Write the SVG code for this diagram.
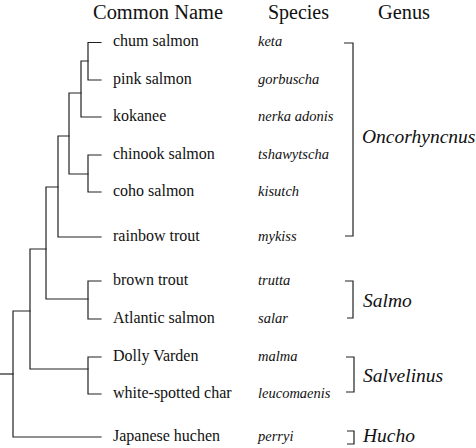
<svg xmlns="http://www.w3.org/2000/svg" width="476" height="448" viewBox="0 0 476 448">
  <style>
    .bg { fill: #ffffff; }
    .edge { fill: none; stroke: #222; stroke-width: 1.2; stroke-linecap: square; }
    .bracket { fill: none; stroke: #222; stroke-width: 1.2; }
    text { fill: #111; }
    .head { font-size: 20px; }
    .common { font-size: 16px; }
    .species { font-style: italic; font-size: 14.5px; }
    .genus { font-style: italic; font-size: 19.5px; }
  </style>
  <rect class="bg" x="0" y="0" width="476" height="448"/>

  <g font-family="'Liberation Serif', 'Times New Roman', Times, 'DejaVu Serif', serif">
  <!-- column headings -->
  <g id="headings">
    <text class="head" x="93" y="19" textLength="130" lengthAdjust="spacingAndGlyphs">Common Name</text>
    <text class="head" x="268" y="19" textLength="61" lengthAdjust="spacingAndGlyphs">Species</text>
    <text class="head" x="378" y="19" textLength="52" lengthAdjust="spacingAndGlyphs">Genus</text>
  </g>

  <!-- tree branches -->
  <g id="connectors">
    <path class="edge" d="M101,42.5 H88 V80 H101"/>
    <path class="edge" d="M88,61 H81 V117 H101"/>
    <path class="edge" d="M101,155 H88 V192 H101"/>
    <path class="edge" d="M81,93 H69 V174 H88"/>
    <path class="edge" d="M69,136 H58 V237 H101"/>
    <path class="edge" d="M101,281 H88 V319 H101"/>
    <path class="edge" d="M58,187 H46 V299 H88"/>
    <path class="edge" d="M101,357 H88 V394 H101"/>
    <path class="edge" d="M46,249 H30 V369 H88"/>
    <path class="edge" d="M30,311 H13 V437 H101"/>
    <path class="edge" d="M0,374 H13"/>
  </g>

  <!-- taxa: common name and species -->
  <g id="chum"><text class="common" x="113" y="46">chum salmon</text><text class="species" x="258" y="46">keta</text></g>
  <g id="pink"><text class="common" x="113" y="84">pink salmon</text><text class="species" x="258" y="84">gorbuscha</text></g>
  <g id="kokanee"><text class="common" x="113" y="121">kokanee</text><text class="species" x="258" y="121">nerka adonis</text></g>
  <g id="chinook"><text class="common" x="113" y="159">chinook salmon</text><text class="species" x="258" y="159">tshawytscha</text></g>
  <g id="coho"><text class="common" x="113" y="196">coho salmon</text><text class="species" x="258" y="196">kisutch</text></g>
  <g id="rainbow"><text class="common" x="113" y="241">rainbow trout</text><text class="species" x="258" y="241">mykiss</text></g>
  <g id="brown"><text class="common" x="113" y="285">brown trout</text><text class="species" x="258" y="285">trutta</text></g>
  <g id="atlantic"><text class="common" x="113" y="323">Atlantic salmon</text><text class="species" x="258" y="323">salar</text></g>
  <g id="dolly"><text class="common" x="113" y="361">Dolly Varden</text><text class="species" x="258" y="361">malma</text></g>
  <g id="char"><text class="common" x="113" y="398">white-spotted char</text><text class="species" x="258" y="398">leucomaenis</text></g>
  <g id="huchen"><text class="common" x="113" y="441">Japanese huchen</text><text class="species" x="258" y="441">perryi</text></g>

  <!-- genus brackets -->
  <g id="genus-oncorhynchus">
    <path class="bracket" d="M344,43 H353 V236 H345"/>
    <text class="genus" x="362" y="143">Oncorhyncnus</text>
  </g>
  <g id="genus-salmo">
    <path class="bracket" d="M345,281 H353 V318 H347"/>
    <text class="genus" x="363" y="307">Salmo</text>
  </g>
  <g id="genus-salvelinus">
    <path class="bracket" d="M346,357 H354 V392 H346"/>
    <text class="genus" x="363" y="382">Salvelinus</text>
  </g>
  <g id="genus-hucho">
    <path class="bracket" d="M347,431 H354 V444 H347"/>
    <text class="genus" x="363" y="442">Hucho</text>
  </g>
  </g>
</svg>
